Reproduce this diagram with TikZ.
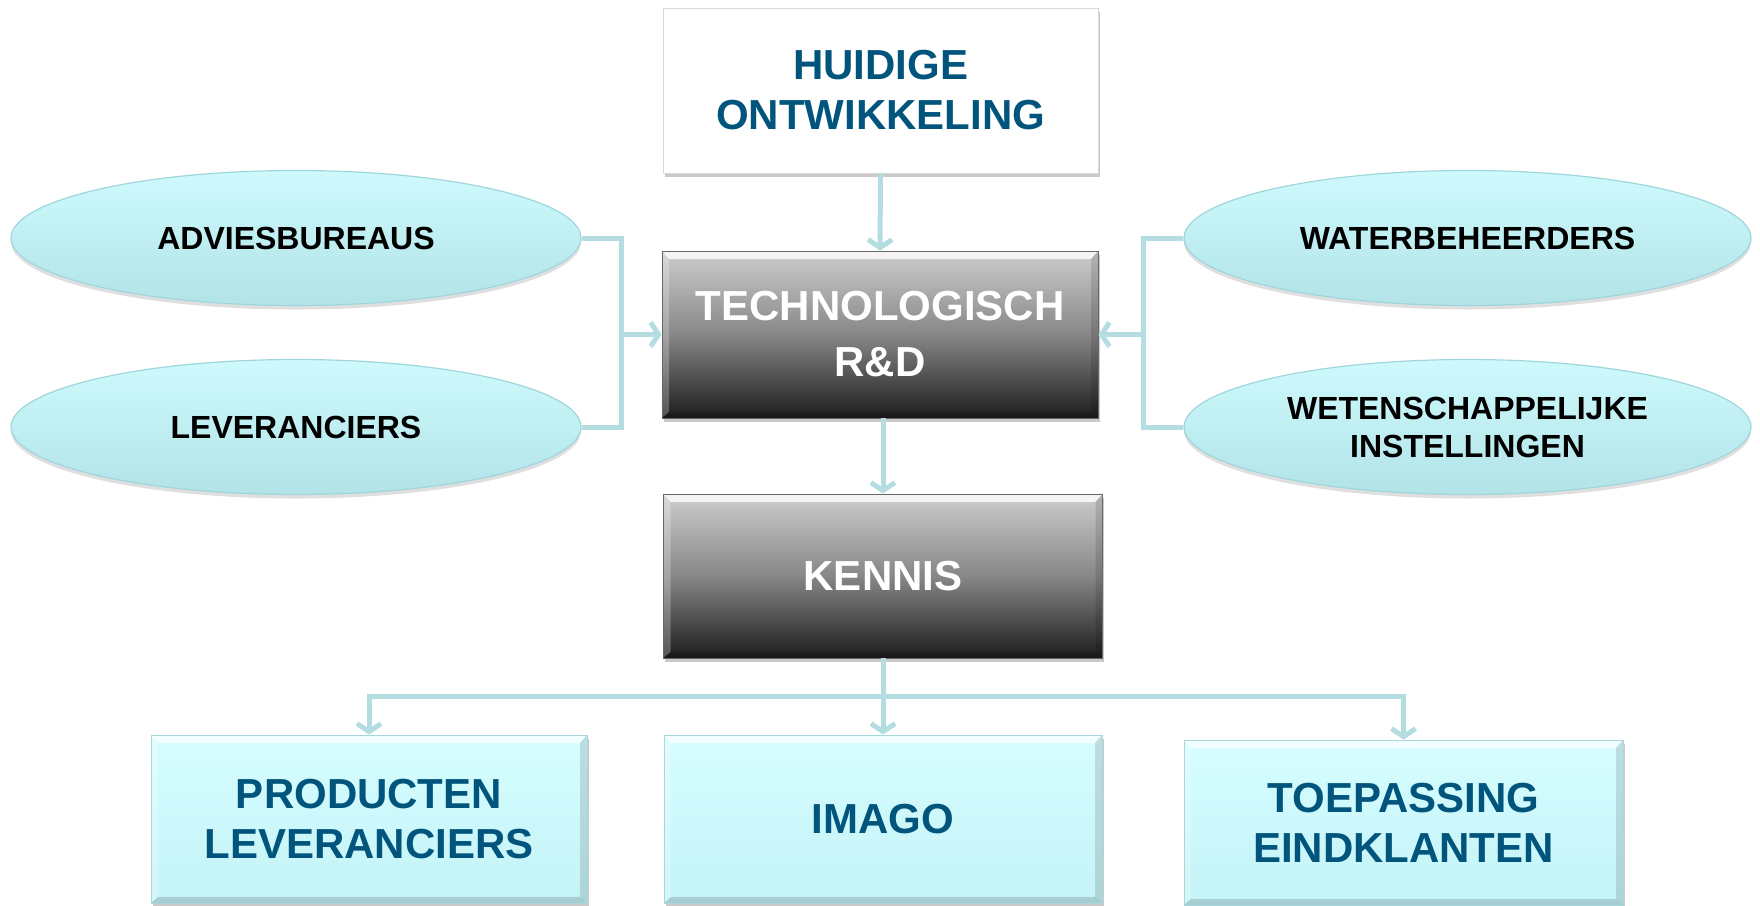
\documentclass[tikz,border=0pt]{standalone}
\usepackage{fontspec}
\setmainfont{Liberation Sans}
\usetikzlibrary{shapes.geometric,shadows,arrows.meta}
\definecolor{tealtxt}{RGB}{1,85,124}
\definecolor{connc}{RGB}{180,221,225}
\definecolor{ellTop}{RGB}{206,250,253}
\definecolor{ellBot}{RGB}{178,227,231}
\definecolor{ellBd}{RGB}{160,214,219}
\definecolor{boxTop}{RGB}{214,253,255}
\definecolor{boxBot}{RGB}{196,243,247}
\definecolor{boxBd}{RGB}{170,215,220}
\definecolor{grayTop}{RGB}{205,205,205}
\definecolor{grayMid}{RGB}{135,135,135}
\definecolor{grayBot}{RGB}{28,28,28}
\tikzset{
  bevel/.style={path picture={
    \fill[white,opacity=#1] (path picture bounding box.north west) -- (path picture bounding box.north east)
      -- ([xshift=-3.5pt,yshift=-4pt]path picture bounding box.north east) -- ([xshift=3.5pt,yshift=-4pt]path picture bounding box.north west) -- cycle;
    \fill[white,opacity=0.25] (path picture bounding box.north west) -- ([xshift=3.5pt,yshift=-4pt]path picture bounding box.north west)
      -- ([xshift=3.5pt,yshift=3pt]path picture bounding box.south west) -- (path picture bounding box.south west) -- cycle;
    \fill[black,opacity=0.12] (path picture bounding box.north east) -- ([xshift=-3.5pt,yshift=-4pt]path picture bounding box.north east)
      -- ([xshift=-3.5pt,yshift=3pt]path picture bounding box.south east) -- (path picture bounding box.south east) -- cycle;
    \fill[black,opacity=0.15] (path picture bounding box.south west) -- ([xshift=3.5pt,yshift=3pt]path picture bounding box.south west)
      -- ([xshift=-3.5pt,yshift=3pt]path picture bounding box.south east) -- (path picture bounding box.south east) -- cycle;
  }},
  bigtext/.style={font=\bfseries\fontsize{21}{25}\selectfont, align=center},
  smalltext/.style={font=\bfseries\fontsize{16}{19}\selectfont, align=center, text=black},
  boxbase/.style={rectangle, inner sep=0pt, bigtext,
    drop shadow={shadow xshift=0.8pt, shadow yshift=-2pt, opacity=0.35, fill=black!60}},
  whitebox/.style={boxbase, draw=black!15, fill=white, text=tealtxt},
  graybox/.style={boxbase, draw=black!60, line width=0.4pt, top color=grayTop, bottom color=grayBot, middle color=grayMid, text=white, bevel=0.8},
  cyanbox/.style={boxbase, draw=boxBd, line width=0.4pt, top color=boxTop, bottom color=boxBot, text=tealtxt, bevel=0.7},
  oval/.style={ellipse, inner sep=0pt, smalltext, draw=ellBd, line width=0.6pt, top color=ellTop, bottom color=ellBot,
    drop shadow={shadow xshift=0pt, shadow yshift=-2pt, opacity=0.25, fill=black!50}},
  conn/.style={draw=connc, line width=2.5pt},
  arr/.style={conn, -{Straight Barb[length=4pt,width=12pt]}},
}
\begin{document}
\begin{tikzpicture}[x=0.5pt,y=-0.5pt]
\useasboundingbox (0,0) rectangle (1760,905);
% boxes
\node[whitebox, minimum width=217.5pt, minimum height=82.5pt] (huidige) at (880.5,90.5) {HUIDIGE\\ONTWIKKELING};
\node[graybox, minimum width=218pt, minimum height=83.5pt] (tech) at (880,334.5) {TECHNOLOGISCH\\[3pt]R\&D};
\node[graybox, minimum width=219.5pt, minimum height=82pt] (kennis) at (883,576) {KENNIS};
\node[cyanbox, minimum width=218pt, minimum height=84pt] (prod) at (369,819) {PRODUCTEN\\LEVERANCIERS};
\node[cyanbox, minimum width=219pt, minimum height=84pt] (imago) at (883,819) {IMAGO};
\node[cyanbox, minimum width=219.5pt, minimum height=82.5pt] (toep) at (1403.5,822.5) {TOEPASSING\\EINDKLANTEN};
% ellipses
\node[oval, minimum width=285pt, minimum height=67.5pt] (adv) at (296,238) {ADVIESBUREAUS};
\node[oval, minimum width=285pt, minimum height=67.5pt] (lev) at (296,427) {LEVERANCIERS};
\node[oval, minimum width=283.5pt, minimum height=67.5pt] (wat) at (1467.5,238) {WATERBEHEERDERS};
\node[oval, minimum width=283.5pt, minimum height=67.5pt] (wet) at (1467.5,427) {WETENSCHAPPELIJKE\\INSTELLINGEN};
% junctions
\coordinate (lj) at (621,334.5);
\coordinate (rj) at (1143,334.5);
\coordinate (bj) at (883,696);
% connectors
\draw[arr] (huidige.south) -- (tech.north);
\draw[arr] (kennis.north |- tech.south) -- (kennis.north);
\draw[conn] (adv.east) -| (lj);
\draw[conn] (lev.east) -| (lj);
\draw[arr] (lj) -- (tech.west);
\draw[conn] (wat.west) -| (rj);
\draw[conn] (wet.west) -| (rj);
\draw[arr] (rj) -- (tech.east);
\draw[conn] (kennis.south) -- (bj);
\draw[arr] (bj) -| (prod.north);
\draw[arr] (bj) -- (imago.north);
\draw[arr] (bj) -| (toep.north);
\end{tikzpicture}
\end{document}
